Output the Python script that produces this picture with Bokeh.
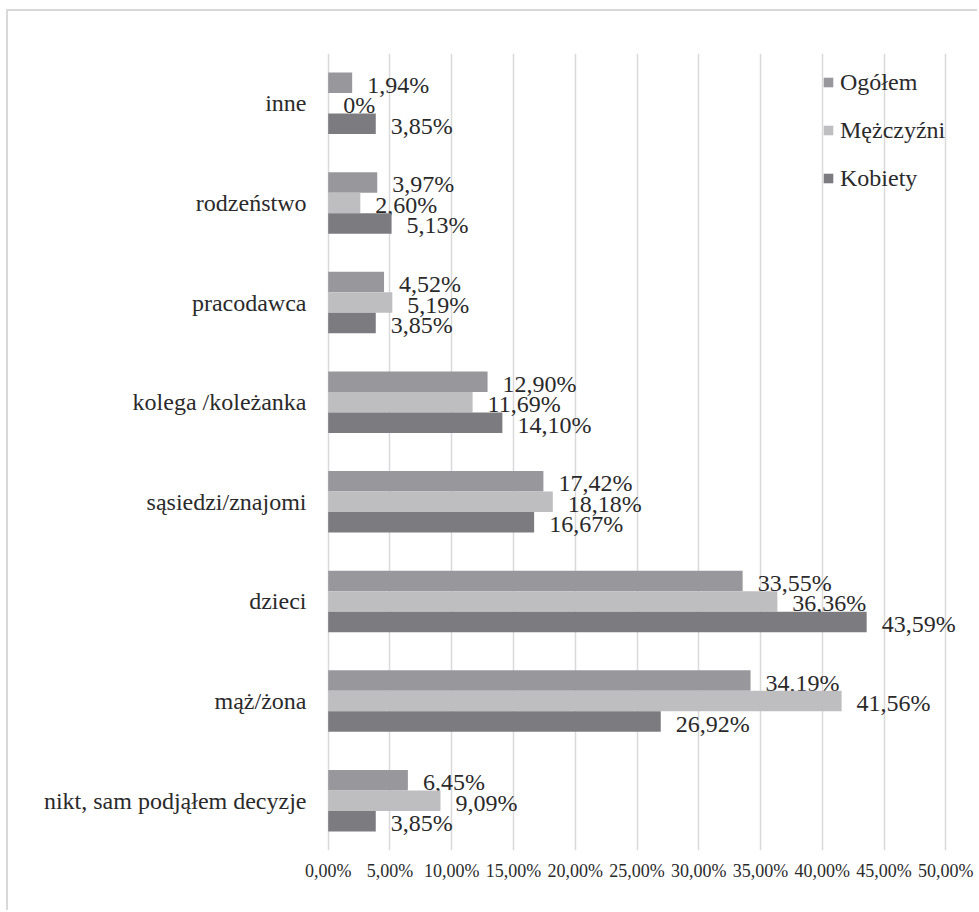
from bokeh.plotting import figure
from bokeh.models import (ColumnDataSource, Range1d, FactorRange, FixedTicker,
                          Legend, LegendItem)
from bokeh.transform import dodge
from bokeh.embed import file_html
from bokeh.resources import INLINE
from bokeh.core.properties import value

# ---- data ----
categories = ["inne", "rodzeństwo", "pracodawca", "kolega /koleżanka",
              "sąsiedzi/znajomi", "dzieci", "mąż/żona",
              "nikt, sam podjąłem decyzje"]
ogolem = [1.94, 3.97, 4.52, 12.90, 17.42, 33.55, 34.19, 6.45]
mezczyzni = [0.00, 2.60, 5.19, 11.69, 18.18, 36.36, 41.56, 9.09]
kobiety = [3.85, 5.13, 3.85, 14.10, 16.67, 43.59, 26.92, 3.85]
series_names = ["Ogółem", "Mężczyźni", "Kobiety"]
series_colors = ["#98989c", "#bebec1", "#7c7c80"]
x_ticks = [0, 5, 10, 15, 20, 25, 30, 35, 40, 45, 50]
x_tick_labels = ["0,00%", "5,00%", "10,00%", "15,00%", "20,00%", "25,00%",
                 "30,00%", "35,00%", "40,00%", "45,00%", "50,00%"]

FONT = "Liberation Serif"
TXT = "#2a2a2a"


def fmt(v):
    if v == 0:
        return "0%"
    return ("%.2f" % v).replace(".", ",") + "%"


p = figure(width=971, height=901, output_backend="svg", toolbar_location=None,
           y_range=FactorRange(factors=list(reversed(categories)), range_padding=0),
           x_range=Range1d(-0.3, 52.4),
           min_border_left=316, min_border_right=4,
           min_border_top=42, min_border_bottom=62)
p.styles = {"border-left": "2px solid #d9d9d9", "border-top": "2px solid #d9d9d9",
            "margin-left": "6px", "margin-top": "9px"}
p.outline_line_color = None
p.background_fill_color = "white"
p.border_fill_color = "white"

bar_h = 0.206
offsets = [bar_h, 0.0, -bar_h]
all_vals = [ogolem, mezczyzni, kobiety]

renderers = []
for name, col, vals, off in zip(series_names, series_colors, all_vals, offsets):
    src = ColumnDataSource(dict(cat=categories, val=vals,
                                lab=[fmt(v) for v in vals]))
    r = p.hbar(y=dodge("cat", off, range=p.y_range), left=0, right="val",
               height=bar_h, fill_color=col, line_color=None, source=src)
    renderers.append((name, r))
    p.text(x="val", y=dodge("cat", off, range=p.y_range), text="lab",
           source=src, x_offset=15, y_offset=2,
           text_font=value(FONT), text_font_size="24px",
           text_color=TXT, text_baseline="middle", text_align="left")

# grid
p.ygrid.grid_line_color = None
p.xgrid.grid_line_color = "#d9d9d9"
p.xgrid.grid_line_width = 1.5
p.xgrid.ticker = FixedTicker(ticks=x_ticks)

# x axis
p.xaxis.ticker = FixedTicker(ticks=x_ticks)
p.xaxis.major_label_overrides = {t: l for t, l in zip(x_ticks, x_tick_labels)}
p.xaxis.axis_line_color = None
p.xaxis.major_tick_line_color = None
p.xaxis.minor_tick_line_color = None
p.xaxis.major_label_text_font = FONT
p.xaxis.major_label_text_font_size = "18px"
p.xaxis.major_label_text_color = TXT
p.xaxis.major_label_standoff = 4

# y axis
p.yaxis.axis_line_color = None
p.yaxis.major_tick_line_color = None
p.yaxis.minor_tick_line_color = None
p.yaxis.major_label_text_font = FONT
p.yaxis.major_label_text_font_size = "24px"
p.yaxis.major_label_text_color = TXT
p.yaxis.major_label_standoff = 12

legend = Legend(items=[LegendItem(label=n, renderers=[r]) for n, r in renderers],
                location=(498, 648), orientation="vertical",
                padding=0, margin=0, spacing=0,
                glyph_width=12, glyph_height=12, label_height=48,
                label_standoff=6, border_line_color=None,
                background_fill_alpha=0,
                label_text_font=FONT, label_text_font_size="24px",
                label_text_color=TXT)
p.add_layout(legend)

open("out.html", "w").write(file_html(p, INLINE))
